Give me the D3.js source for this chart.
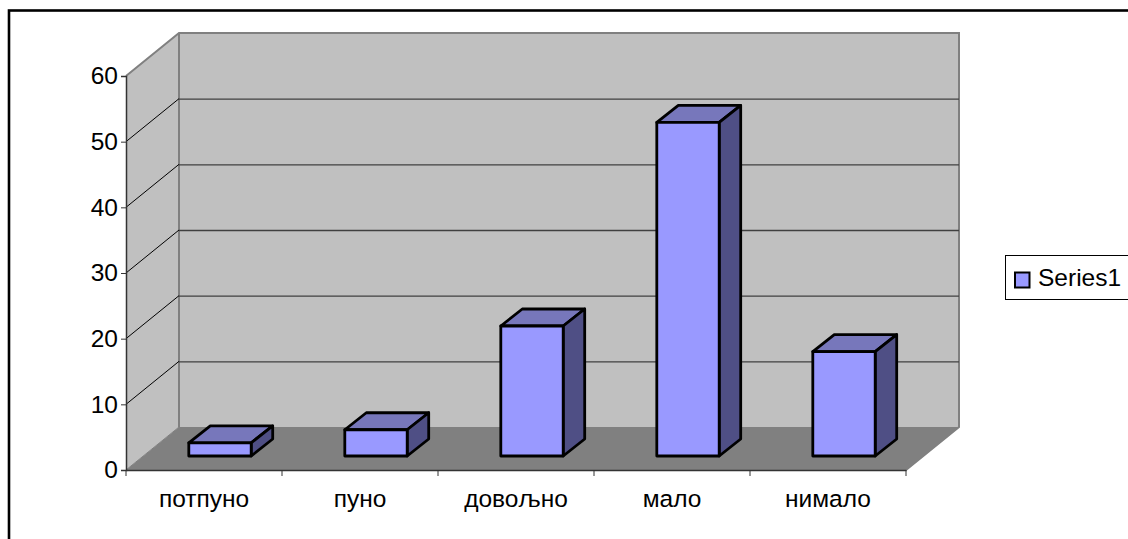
<!DOCTYPE html>
<html>
<head>
<meta charset="utf-8">
<style>
  html, body { margin: 0; padding: 0; background: #fff; }
  svg { display: block; }
  text { font-family: "Liberation Sans", Arial, sans-serif; fill: #000; }
</style>
</head>
<body>
<svg width="1128" height="539"></svg>
<script src="https://cdnjs.cloudflare.com/ajax/libs/d3/7.8.5/d3.min.js"></script>
<script>
const categories = ["потпуно", "пуно", "довољно", "мало", "нимало"];
const values = [2, 4, 19.8, 50.8, 15.9];
const yTicks = [0, 10, 20, 30, 40, 50, 60];
const seriesName = "Series1";

const svg = d3.select("svg");
const fontSize = 24.5;

// chart frame
svg.append("rect")
    .attr("x", 9).attr("y", 10.5)
    .attr("width", 1140).attr("height", 560)
    .attr("fill", "#fff").attr("stroke", "#000").attr("stroke-width", 2.6);

const x = d3.scaleBand().domain(categories).range([126, 906]).paddingInner(0.6).paddingOuter(0.3);
const y = d3.scaleLinear().domain([0, 60]).range([470, 76]);

// depth of the 3d box and of a bar
const wallDx = 53, wallDy = -43;
const barDx = 21.5, barDy = -17;
const barShift = 16, barLift = 14;

const line = d3.line();

// floor
svg.append("path")
    .attr("d", line([[x.range()[0], y(0)], [x.range()[0] + wallDx, y(0) + wallDy], [x.range()[1] + wallDx, y(0) + wallDy], [x.range()[1], y(0)]]) + "Z")
    .attr("fill", "#808080");

// side wall
svg.append("path")
    .attr("d", line([[126, y(0)], [126 + wallDx, y(0) + wallDy], [126 + wallDx, y(60) + wallDy], [126, y(60)]]) + "Z")
    .attr("fill", "#c0c0c0");

// back wall
svg.append("rect")
    .attr("x", 126 + wallDx).attr("y", y(60) + wallDy)
    .attr("width", 780).attr("height", y(0) - y(60))
    .attr("fill", "#c0c0c0");

// wall outlines
svg.append("path")
    .attr("d", line([[126, y(60)], [126 + wallDx, y(60) + wallDy], [906 + wallDx, y(60) + wallDy], [906 + wallDx, y(0) + wallDy], [906, y(0)]]))
    .attr("fill", "none").attr("stroke", "#808080").attr("stroke-width", 2);
svg.append("line")
    .attr("x1", 126 + wallDx).attr("x2", 126 + wallDx)
    .attr("y1", y(60) + wallDy).attr("y2", y(0) + wallDy)
    .attr("stroke", "#808080").attr("stroke-width", 2);
svg.append("line")
    .attr("x1", 126).attr("x2", 126 + wallDx)
    .attr("y1", y(0)).attr("y2", y(0) + wallDy)
    .attr("stroke", "#808080").attr("stroke-width", 1);

// gridlines
const grid = yTicks.filter(d => d > 0 && d < 60);
svg.append("g").selectAll("line").data(grid).enter().append("line")
    .attr("x1", 126 + wallDx).attr("x2", 906 + wallDx)
    .attr("y1", d => y(d) + wallDy + 0.5).attr("y2", d => y(d) + wallDy + 0.5)
    .attr("stroke", "#404040").attr("stroke-width", 1.3);
svg.append("g").selectAll("line").data(grid).enter().append("line")
    .attr("x1", 126).attr("x2", 126 + wallDx)
    .attr("y1", d => y(d)).attr("y2", d => y(d) + wallDy)
    .attr("stroke", "#000").attr("stroke-width", 1);

// bars
const barBase = y(0) - barLift;
const bar = svg.append("g").selectAll("g").data(categories).enter().append("g")
    .attr("stroke", "#000").attr("stroke-width", 2.8).attr("stroke-linejoin", "round");
const barTop = (d, i) => y(values[i]) - barLift;
const left = d => x(d) + barShift;
const right = d => x(d) + barShift + x.bandwidth();

bar.append("path")
    .attr("fill", "#7777bb")
    .attr("d", (d, i) => line([[left(d), barTop(d, i)], [left(d) + barDx, barTop(d, i) + barDy], [right(d) + barDx, barTop(d, i) + barDy], [right(d), barTop(d, i)]]) + "Z");
bar.append("path")
    .attr("fill", "#4f4f85")
    .attr("d", (d, i) => line([[right(d), barTop(d, i)], [right(d) + barDx, barTop(d, i) + barDy], [right(d) + barDx, barBase + barDy], [right(d), barBase]]) + "Z");
bar.append("rect")
    .attr("fill", "#9999ff")
    .attr("x", d => left(d))
    .attr("y", (d, i) => barTop(d, i))
    .attr("width", x.bandwidth())
    .attr("height", (d, i) => barBase - barTop(d, i));

// axes
const yAxis = svg.append("g")
    .attr("transform", "translate(126,0)")
    .call(d3.axisLeft(y).tickValues(yTicks).tickSize(5).tickPadding(3));
yAxis.select(".domain").attr("stroke", "#333").attr("stroke-width", 1.5);
yAxis.selectAll("line").attr("stroke", "#333");
yAxis.selectAll("text").attr("font-size", fontSize).style("font-family", '"Liberation Sans", Arial, sans-serif');

const xAxis = svg.append("g")
    .attr("transform", `translate(0,${y(0)})`)
    .call(d3.axisBottom(x).tickSize(0).tickPadding(20));
xAxis.select(".domain").attr("stroke", "#333").attr("stroke-width", 1.5);
xAxis.selectAll("text").attr("font-size", fontSize).style("font-family", '"Liberation Sans", Arial, sans-serif');
// ticks sit between the categories
svg.append("g").selectAll("line").data(d3.range(categories.length + 1)).enter().append("line")
    .attr("x1", i => 126 + i * x.step()).attr("x2", i => 126 + i * x.step())
    .attr("y1", y(0)).attr("y2", y(0) + 6)
    .attr("stroke", "#333").attr("stroke-width", 1);

// legend
svg.append("rect")
    .attr("x", 1005.5).attr("y", 255.5)
    .attr("width", 140).attr("height", 44)
    .attr("fill", "#fff").attr("stroke", "#000").attr("stroke-width", 1);
svg.append("rect")
    .attr("x", 1015).attr("y", 272.5)
    .attr("width", 14.5).attr("height", 15)
    .attr("fill", "#9999ff").attr("stroke", "#000").attr("stroke-width", 2);
svg.append("text")
    .attr("x", 1038).attr("y", 286)
    .attr("font-size", fontSize)
    .text(seriesName);
</script>
</body>
</html>
